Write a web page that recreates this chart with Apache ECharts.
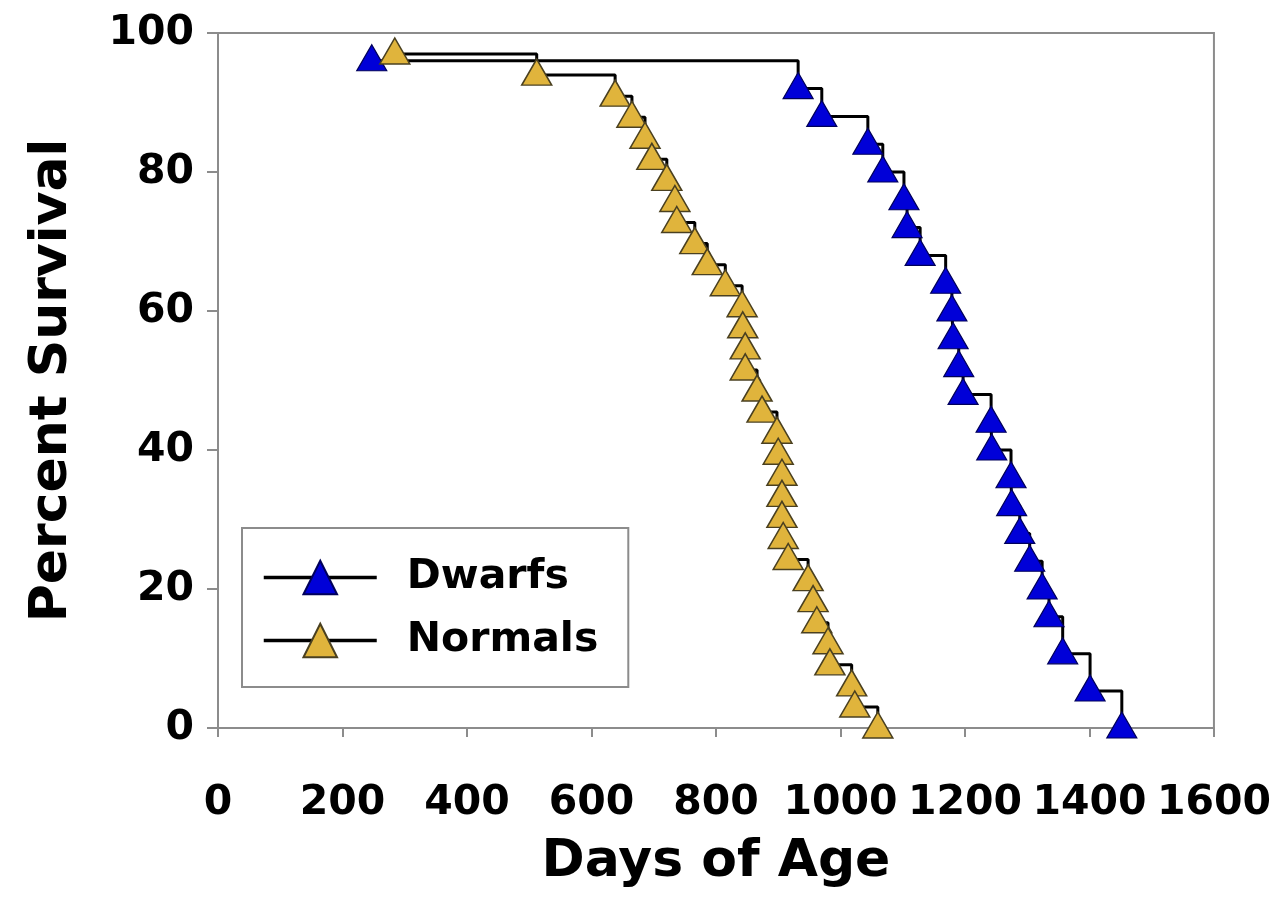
<!DOCTYPE html>
<html>
<head>
<meta charset="utf-8">
<script src="https://cdn.jsdelivr.net/npm/echarts@6/dist/echarts.min.js"></script>
<style>
html,body{margin:0;padding:0;background:#fff;}
#chart{width:1274px;height:913px;}
</style>
</head>
<body>
<div id="chart"></div>
<script>
// Kaplan-Meier style survival data
const dwarfDays = [247, 932, 970, 1044, 1068, 1102, 1107, 1128, 1169, 1179, 1181, 1190, 1197, 1242, 1243, 1274, 1275, 1288, 1304, 1324, 1335, 1357, 1401, 1452];
const dwarfSurvival = [96, 92, 88, 84, 80, 76, 72, 68, 64, 60, 56, 52, 48, 44, 40, 36, 32, 28, 24, 20, 16, 10.67, 5.33, 0];

const normalDays = [284, 512, 638, 665, 686, 697, 721, 734, 737, 766, 786, 815, 842, 843, 847, 847, 866, 874, 898, 900, 906, 906, 906, 908, 916, 948, 956, 962, 980, 983, 1018, 1023, 1060];
const normalSurvival = [96.97, 93.94, 90.91, 87.88, 84.85, 81.82, 78.79, 75.76, 72.73, 69.70, 66.67, 63.64, 60.61, 57.58, 54.55, 51.52, 48.48, 45.45, 42.42, 39.39, 36.36, 33.33, 30.30, 27.27, 24.24, 21.21, 18.18, 15.15, 12.12, 9.09, 6.06, 3.03, 0];

const seriesNames = ['Dwarfs', 'Normals'];
const xTicks = [0, 200, 400, 600, 800, 1000, 1200, 1400, 1600];
const yTicks = [0, 20, 40, 60, 80, 100];

const FONT = 'DejaVu Sans';
const zip = (a, b) => a.map((v, i) => [v, b[i]]);

const chart = echarts.init(document.getElementById('chart'), null, {renderer: 'canvas'});
chart.setOption({
  backgroundColor: '#fff',
  animation: false,
  grid: {left: 218, right: 60, top: 33, bottom: 185, show: true, borderColor: '#8c8c8c', borderWidth: 2},
  xAxis: {
    type: 'value', min: xTicks[0], max: xTicks[xTicks.length - 1], interval: 200,
    name: 'Days of Age', nameLocation: 'middle', nameGap: 108,
    nameTextStyle: {fontFamily: FONT, fontWeight: 'bold', fontSize: 52, color: '#000'},
    axisLine: {show: true, lineStyle: {color: '#8c8c8c', width: 2}},
    axisTick: {show: true, length: 9, lineStyle: {color: '#8c8c8c', width: 2}},
    axisLabel: {fontFamily: FONT, fontWeight: 'bold', fontSize: 41, color: '#000', margin: 55,
      showMinLabel: true, showMaxLabel: true, hideOverlap: false,
      formatter: v => String(v)},
    splitLine: {show: false}
  },
  yAxis: {
    type: 'value', min: yTicks[0], max: yTicks[yTicks.length - 1], interval: 20,
    name: 'Percent Survival', nameLocation: 'middle', nameGap: 140,
    nameTextStyle: {fontFamily: FONT, fontWeight: 'bold', fontSize: 52, color: '#000'},
    axisLine: {show: true, lineStyle: {color: '#8c8c8c', width: 2}},
    axisTick: {show: true, length: 11, lineStyle: {color: '#8c8c8c', width: 2}},
    axisLabel: {fontFamily: FONT, fontWeight: 'bold', fontSize: 41, color: '#000', margin: 24,
      formatter: v => String(v)},
    splitLine: {show: false}
  },
  legend: {
    left: 242, top: 528, orient: 'vertical',
    data: seriesNames,
    itemWidth: 113, itemHeight: 42, itemGap: 22,
    padding: [29, 30, 26, 20],
    borderColor: '#8c8c8c', borderWidth: 2, backgroundColor: '#fff',
    lineStyle: {width: 3.5, color: '#000'},
    textStyle: {fontFamily: FONT, fontWeight: 'bold', fontSize: 41, color: '#000', padding: [0, 0, 0, 25]}
  },
  series: [
    {
      name: seriesNames[0], type: 'line', step: 'end',
      data: zip(dwarfDays, dwarfSurvival),
      symbol: 'triangle', symbolSize: [30, 26], symbolOffset: [0, -3],
      lineStyle: {color: '#000', width: 3},
      itemStyle: {color: '#0000D8', borderColor: '#00005a', borderWidth: 1.2},
      z: 2
    },
    {
      name: seriesNames[1], type: 'line', step: 'end',
      data: zip(normalDays, normalSurvival),
      symbol: 'triangle', symbolSize: [30, 26], symbolOffset: [0, -3],
      lineStyle: {color: '#000', width: 3},
      itemStyle: {color: '#E0B43C', borderColor: '#4a4020', borderWidth: 1.5},
      z: 3
    }
  ]
});
</script>
</body>
</html>
